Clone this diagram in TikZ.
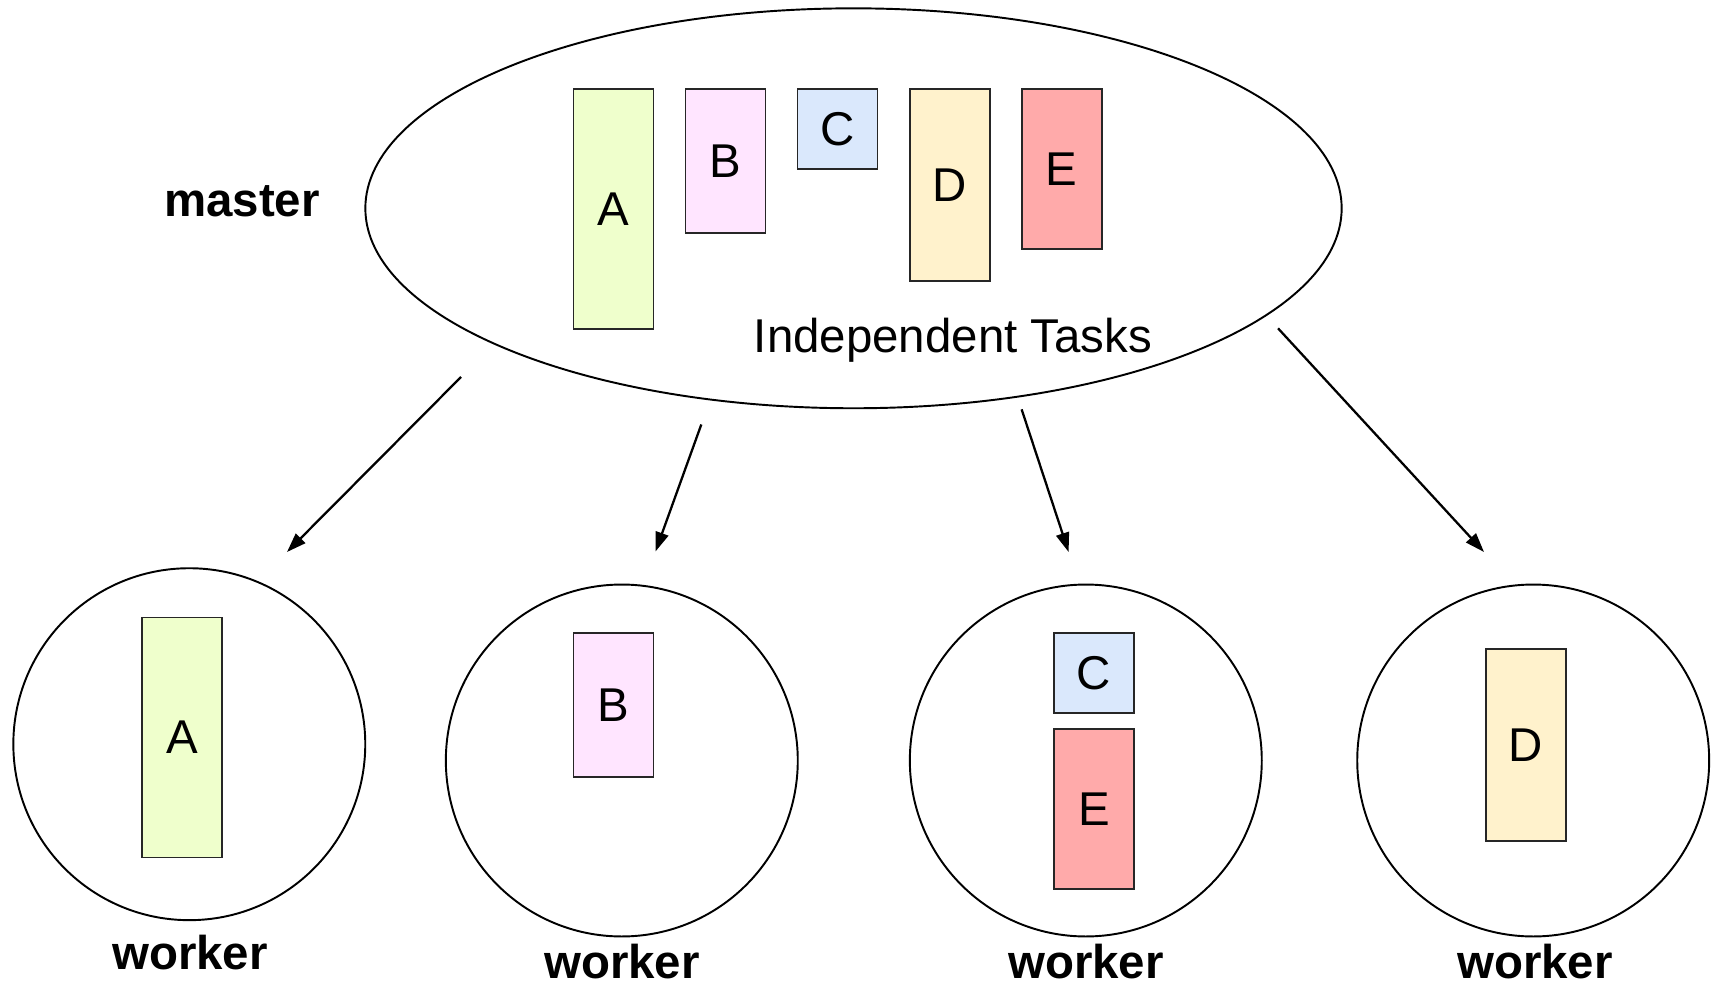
\documentclass[tikz,border=0pt]{standalone}
\usepackage{fontspec}
\setmainfont{Liberation Sans}
\usetikzlibrary{shapes.geometric,arrows.meta}
\definecolor{cA}{HTML}{EFFFCC}
\definecolor{cB}{HTML}{FFE5FF}
\definecolor{cC}{HTML}{DAE8FC}
\definecolor{cD}{HTML}{FFF2CC}
\definecolor{cE}{HTML}{FFAAAA}
\tikzset{
  txt/.style={font=\fontsize{27}{32}\selectfont},
  bold/.style={font=\fontsize{27}{32}\selectfont\bfseries},
  task/.style={draw=black!85, line width=1pt, minimum width=1.6cm, inner sep=0pt, anchor=north, font=\fontsize{27}{32}\selectfont},
  wcirc/.style={circle, draw, line width=1.1pt, minimum size=7.04cm, inner sep=0pt},
  conn/.style={line width=1.3pt, -{Triangle[length=11pt,width=7.5pt]}}
}
\begin{document}
\begin{tikzpicture}[x=0.02cm,y=-0.02cm]
\useasboundingbox (0,0) rectangle (1713,986);
% master
\node[ellipse, draw, line width=1.1pt, minimum width=19.53cm, minimum height=8cm, inner sep=0pt] (master) at (853.5,208.3) {};
\node[bold, anchor=base] (mlabel) at (242,216.7) {master};
\node[task, fill=cA, minimum height=4.8cm] (mA) at (613.4,88.3) {A};
\node[task, fill=cB, minimum height=2.88cm] (mB) at (725.6,88.3) {B};
\node[task, fill=cC, minimum height=1.6cm] (mC) at (837.5,88.3) {C};
\node[task, fill=cD, minimum height=3.84cm] (mD) at (949.8,88.3) {D};
\node[task, fill=cE, minimum height=3.2cm] (mE) at (1061.7,88.3) {E};
\node[txt, anchor=base] (itasks) at (953,352.7) {Independent Tasks};
% workers
\node[wcirc] (w1) at (189.3,744.2) {};
\node[wcirc] (w2) at (621.8,760.5) {};
\node[wcirc] (w3) at (1085.8,760.5) {};
\node[wcirc] (w4) at (1533.2,760.5) {};
\node[task, fill=cA, minimum height=4.8cm] (wA) at (181.9,616.7) {A};
\node[task, fill=cB, minimum height=2.88cm] (wB) at (613.5,632.3) {B};
\node[task, fill=cC, minimum height=1.6cm] (wC) at (1094,632.3) {C};
\node[task, fill=cE, minimum height=3.2cm] (wE) at (1094,728.3) {E};
\node[task, fill=cD, minimum height=3.84cm] (wD) at (1526,648.3) {D};
\node[bold, anchor=base] (l1) at (190,969.3) {worker};
\node[bold, anchor=base] (l2) at (622,978) {worker};
\node[bold, anchor=base] (l3) at (1086,978) {worker};
\node[bold, anchor=base] (l4) at (1535,978) {worker};
% arrows
\coordinate (s1) at (461,377);
\coordinate (e1) at (287,552);
\coordinate (s2) at (701.3,424.5);
\coordinate (e2) at (655.5,551.5);
\coordinate (s3) at (1021.6,409.3);
\coordinate (e3) at (1068.6,552);
\coordinate (s4) at (1278,328.3);
\coordinate (e4) at (1484,552);
\draw[conn] (s1) -- (e1);
\draw[conn] (s2) -- (e2);
\draw[conn] (s3) -- (e3);
\draw[conn] (s4) -- (e4);
\end{tikzpicture}
\end{document}
